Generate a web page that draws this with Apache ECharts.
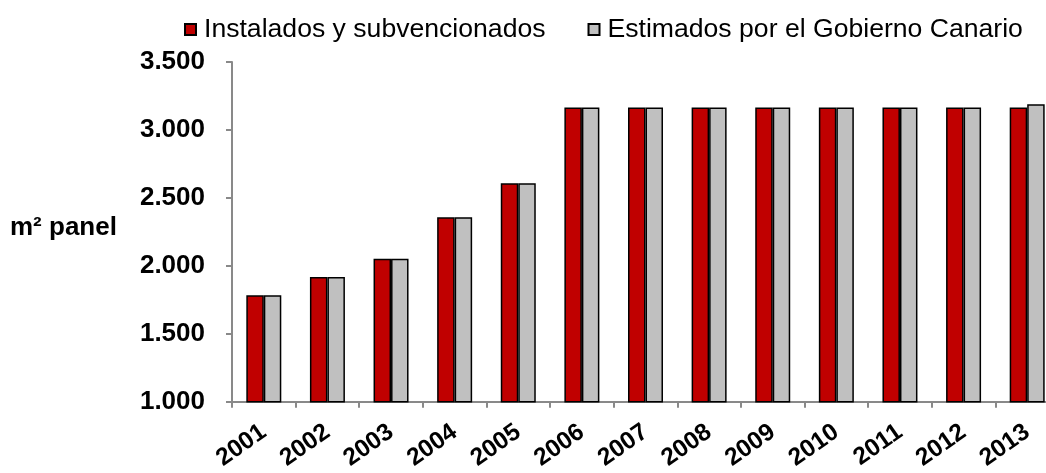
<!DOCTYPE html>
<html><head><meta charset="utf-8">
<script src="https://cdn.jsdelivr.net/npm/echarts@6/dist/echarts.min.js"></script>
<style>html,body{margin:0;padding:0;background:#fff;overflow:hidden}#c{width:1059px;height:473px}</style>
</head><body><div id="c"></div>
<script>
const years = ['2001','2002','2003','2004','2005','2006','2007','2008','2009','2010','2011','2012','2013'];
const instalados = [1784,1919,2053,2358,2608,3165,3165,3165,3165,3165,3165,3165,3165];
const estimados = [1784,1919,2053,2358,2608,3165,3165,3165,3165,3165,3165,3165,3190];
const yTicks = [1000,1500,2000,2500,3000,3500];

const chart = echarts.init(document.getElementById('c'));
const font = 'Liberation Sans, Arial, sans-serif';
const fmt = v => String(v).replace(/\B(?=(\d{3})+(?!\d))/g, '.');
chart.setOption({
  animation:false,
  grid:{left:232, top:62, bottom:70, right:0, containLabel:false},
  legend:{
    top:11, left:179, itemGap:42, itemWidth:11, itemHeight:11,
    icon:'rect',
    textStyle:{fontFamily:font, fontSize:26.6, color:'#000', padding:[0,0,0,3]},
    data:['Instalados y subvencionados','Estimados por el Gobierno Canario']
  },
  xAxis:{
    type:'category', data:years, boundaryGap:true,
    axisLine:{lineStyle:{color:'#898989', width:2}},
    axisTick:{show:true, alignWithLabel:false, length:6, lineStyle:{color:'#898989', width:2}},
    axisLabel:{rotate:35, fontFamily:font, fontWeight:'bold', fontSize:24.5, color:'#000', margin:28, interval:0}
  },
  yAxis:{
    type:'value', min:yTicks[0], max:yTicks[yTicks.length-1], interval:500,
    splitLine:{show:false},
    axisLine:{show:true, lineStyle:{color:'#898989', width:2}},
    axisTick:{show:true, length:6, lineStyle:{color:'#898989', width:2}},
    axisLabel:{fontFamily:font, fontWeight:'bold', fontSize:26, color:'#000', margin:27, formatter:v=>fmt(v)}
  },
  graphic:[{type:'text', left:10, top:215, style:{text:'m² panel', font:'bold 26px '+font, fill:'#000'}}],
  series:[
    {name:'Instalados y subvencionados', type:'bar', data:instalados, barGap:'0%', barCategoryGap:'45%',
     itemStyle:{color:'#C00000', borderColor:'#000', borderWidth:1.5}},
    {name:'Estimados por el Gobierno Canario', type:'bar', data:estimados, barGap:'0%', barCategoryGap:'45%',
     itemStyle:{color:'#C0C0C0', borderColor:'#000', borderWidth:1.5}}
  ]
});
</script></body></html>
